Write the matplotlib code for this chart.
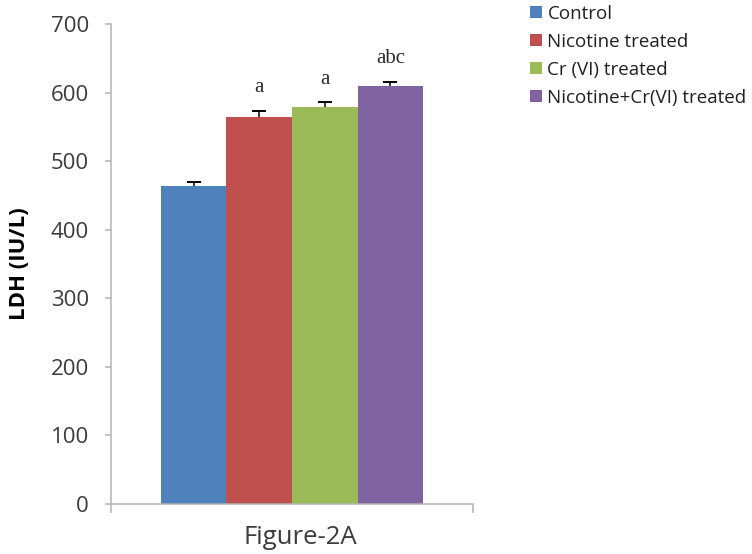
import numpy as np
import matplotlib
matplotlib.use("Agg")
from matplotlib import pyplot as plt

# data
groups  = ['Control', 'Nicotine treated', 'Cr (VI) treated', 'Nicotine+Cr(VI) treated']
ldh     = [464, 564, 579, 610]
sem     = [6, 9.5, 7, 6]
letters = ['', 'a', 'a', 'abc']
colors  = ['#4F81BD', '#C0504D', '#9BBB59', '#8064A2']
yticks  = [0, 100, 200, 300, 400, 500, 600, 700]

axis_clr = '#B3B3B3'
text_clr = '#3C3C3C'

fig = plt.figure(figsize=(7.52, 5.54), dpi=100)
ax  = fig.add_axes([0.1476, 0.0903, 0.4814, 0.8664])

x = np.arange(len(groups))
for k in range(len(groups)):
    ax.bar(x[k], ldh[k], width=1.0, color=colors[k], label=groups[k], zorder=2)

# error bars sit behind the bars, so only the upper half shows
ax.errorbar(x, ldh, yerr=sem, fmt='none', ecolor='black', elinewidth=1.1,
            capsize=4.7, capthick=1.4, zorder=1)

# significance letters
for k in range(len(groups)):
    if letters[k]:
        ax.text(x[k], ldh[k] + sem[k] + 27, letters[k], ha='center', va='baseline',
                fontsize=15, family='Liberation Serif', color='#2A2A2A')

xl = (-1.263, 4.263)
ax.set_xlim(*xl)
ax.set_ylim(0, 700)
ax.set_yticks(yticks)
ax.set_xticks(xl)
ax.set_xticklabels([])
ax.tick_params(axis='y', direction='out', length=4.5, width=1.1, color=axis_clr,
               labelsize=16, labelcolor=text_clr, pad=11.5)
ax.tick_params(axis='x', direction='out', length=6.5, width=1.1, color=axis_clr)
for t in ax.get_yticklabels():
    t.set_family('Open Sans')

for side in ['top', 'right']:
    ax.spines[side].set_visible(False)
for side in ['left', 'bottom']:
    ax.spines[side].set_color(axis_clr)
    ax.spines[side].set_linewidth(1.1)

ax.set_ylabel('LDH (IU/L)', fontsize=16, fontweight='bold', family='Open Sans',
              color='black')
ax.yaxis.set_label_coords(-0.225, 0.5)
ax.set_xlabel('Figure-2A', fontsize=18.5, family='Open Sans', color=text_clr)
ax.xaxis.set_label_coords(0.522, -0.043)

fig.legend(loc='upper left', bbox_to_anchor=(0.705, 0.991), frameon=False,
           prop={'family': 'Open Sans', 'size': 13.5}, handlelength=0.62,
           handleheight=0.62, handletextpad=0.3, labelspacing=0.53,
           borderaxespad=0, borderpad=0, labelcolor='#202020')

fig.savefig('out.png', dpi=100)
